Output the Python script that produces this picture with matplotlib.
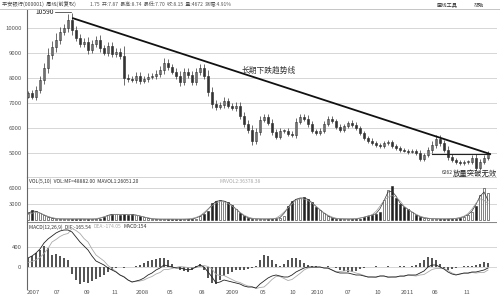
import numpy as np
import matplotlib
matplotlib.use("Agg")
import matplotlib.pyplot as plt

plt.rcParams['font.family'] = ['Noto Sans CJK SC', 'DejaVu Sans']

# weekly closes (index points)
close = [7400, 7240, 7520, 7920, 8400, 8920, 9240, 9520, 9840, 10000,
         10320, 9920, 9600, 9360, 9440, 9120, 9360, 9520, 9200, 9000,
         9280, 8960, 9040, 8880, 8000, 7960, 7920, 8080, 7880, 7960,
         8040, 8080, 8160, 8320, 8600, 8440, 8240, 8080, 7840, 8240,
         8120, 7840, 8240, 8400, 8080, 7440, 6960, 6840, 6920, 7080,
         6880, 6800, 6880, 6480, 6160, 5920, 5480, 5840, 6320, 6440,
         6200, 5840, 5640, 5880, 5880, 5760, 5720, 6240, 6440, 6360,
         6160, 5880, 5800, 5880, 6160, 6360, 6280, 6040, 5920, 6080,
         6200, 6120, 6000, 5800, 5600, 5480, 5400, 5320, 5280, 5400,
         5440, 5280, 5200, 5120, 5080, 5040, 5080, 5000, 4760, 4920,
         5120, 5320, 5560, 5400, 5120, 4840, 4720, 4640, 4600, 4640,
         4640, 4800, 4400, 4640, 4800, 4960]
wick = [150, 200, 250, 300, 350, 500, 400, 450, 350, 300,
        400, 450, 300, 250, 300, 350, 250, 300, 350, 200,
        300, 250, 250, 300, 700, 250, 200, 250, 300, 200,
        250, 200, 250, 300, 350, 250, 200, 300, 350, 300,
        250, 300, 250, 300, 250, 400, 350, 250, 200, 250,
        200, 200, 250, 300, 250, 300, 350, 300, 250, 200,
        200, 250, 200, 200, 150, 200, 200, 250, 200, 200,
        250, 200, 150, 200, 200, 200, 200, 150, 200, 150,
        150, 200, 200, 150, 150, 150, 200, 150, 150, 150,
        150, 150, 150, 150, 120, 150, 120, 150, 200, 150,
        200, 250, 300, 250, 200, 250, 200, 150, 150, 150,
        150, 200, 250, 200, 200, 200]
volume = [1500, 1875, 1690, 1310, 940, 560, 375,
          200, 180, 220, 190, 170, 210, 190, 200, 180, 170, 190, 210,
          560, 940, 1125, 1125, 940, 1125, 940, 1125, 940, 750, 560, 375,
          180, 170, 160, 150, 160, 170, 150, 140, 160, 170, 180, 220,
          750, 1125, 1690, 3190, 3560, 3750, 3560, 3375, 2810, 2060, 1310, 750,
          300, 260, 220, 200, 180, 190, 200, 230,
          375, 750, 2625, 3560, 3940, 4125, 4310, 3940, 3375, 2440, 1875, 1310, 750,
          300, 250, 220, 200, 180, 190, 210, 240,
          560, 750, 940, 1125, 1500, 3750, 5625, 6375, 4125, 3000, 2440, 2060, 1500, 940, 560,
          400, 300, 250, 220, 200, 190, 200, 220, 260,
          375, 560, 940, 1500, 2625, 4690, 6000, 5060]
dif = [180, 220, 280, 360, 480, 560, 620, 680, 720, 740,
       740, 700, 600, 500, 420, 340, 220, 120, 80, 40,
       -20, -60, -100, -160, -200, -260, -300, -280, -260, -220,
       -160, -120, -60, -20, 40, 20, 0, -20, -20, -40,
       -60, -40, 0, 40, 0, -100, -200, -320, -300, -260,
       -280, -300, -320, -340, -380, -400, -400, -420, -340, -280,
       -220, -180, -160, -180, -200, -200, -160, -100, -60, -20,
       0, 0, 0, 0, -20, -20, -60, -100, -120, -120,
       -120, -140, -160, -160, -180, -200, -200, -200, -180, -180,
       -200, -200, -200, -180, -180, -160, -160, -160, -120, -80,
       0, 40, 40, 0, -40, -100, -140, -160, -140, -120,
       -120, -100, -100, -80, -60, -20]
macd_hist = [180, 220, 280, 340, 420, 380, 240, 260, 220, 180,
             140, -140, -260, -340, -300, -320, -280, -240, -200, -160,
             -100, -60, -20, 0, -20, 0, 0, 20, 40, 80,
             120, 140, 160, 180, 180, 140, 60, -20, -60, -80,
             -100, -60, 20, 60, -60, -220, -320, -340, -260, -180,
             -140, -100, -60, -60, -60, -40, -20, 20, 140, 240,
             220, 140, 60, 20, 60, 140, 180, 180, 140, 80,
             40, 20, 20, 0, 0, 20, 0, -20, -60, -80,
             -100, -100, -80, -40, -20, 0, 0, 20, 0, 0,
             20, 0, 0, 20, 20, 0, 20, 40, 80, 140,
             200, 180, 140, 60, -20, -60, -40, -20, 0, 20,
             20, 20, 40, 60, 100, 80]
date_pos = [1.25, 7.25, 14.75, 21.75, 28.5, 35.5, 43.5, 51, 58.75, 66.25,
            72.25, 80, 87.5, 94.75, 101.75, 109.75]
date_lab = ["2007", "07", "09", "11", "2008", "05", "08", "2009", "05", "10",
            "2010", "07", "10", "2011", "06", "11"]

close = np.array(close, float)
n = len(close)
x = np.arange(n)
opn = np.r_[close[0] - 150, close[:-1]]
high = np.maximum(opn, close) + np.array(wick) * 0.6
low = np.minimum(opn, close) - np.array(wick) * 0.4
up = close >= opn
vol = np.array(volume, float)
dif = np.array(dif, float)
hist = np.array(macd_hist, float)
dea = dif - hist / 2

W, H = 500, 298
fig = plt.figure(figsize=(5.0, 2.98), dpi=100)
fig.patch.set_facecolor("white")


def px_axes(top, bottom):
    return fig.add_axes([27 / W, 1 - bottom / H, 470 / W, (bottom - top) / H])


def style(ax):
    ax.set_xlim(-0.25, n + 1.25)
    for s in ("top", "right", "bottom"):
        ax.spines[s].set_visible(False)
    ax.spines["left"].set_color("#666666")
    ax.spines["left"].set_linewidth(0.8)
    ax.tick_params(axis="y", length=0, labelsize=4.3, colors="#555555", pad=4)
    ax.tick_params(axis="x", length=0, labelbottom=False)
    ax.grid(axis="y", color="#d0d0d0", lw=0.6)
    ax.set_axisbelow(True)


# price panel
ax = px_axes(10, 177)
style(ax)
ax.set_ylim(4040, 10720)
ax.set_yticks([5000, 6000, 7000, 8000, 9000, 10000])
ax.vlines(x, low, high, color="#333333", lw=0.5)
body_h = np.abs(close - opn)
body_h = np.maximum(body_h, 25)
ax.bar(x[up], body_h[up], bottom=opn[up], width=0.42, color="white",
       edgecolor="#333333", linewidth=0.45)
ax.bar(x[~up], body_h[~up], bottom=close[~up], width=0.42, color="#333333",
       edgecolor="#333333", linewidth=0.45)

# trend line from the top through the later highs
i0 = int(np.argmax(high))
ax.plot([i0 + 0.25, n - 0.5], [high[i0] - 200, 4960], color="#111111", lw=1.3)
ax.text(i0 - 4.5, high[i0] + 40, f"{int(high[i0])}", fontsize=4.8, ha="right",
        va="center", color="#222222")
ax.plot([i0 - 4.3, i0 - 0.3], [high[i0] + 40, high[i0] + 40], color="#222222", lw=0.5)
ax.text(53.5, 8300, "长期下跌趋势线", fontsize=5.6, color="#333333", va="center")
ax.plot([101, n - 0.5], [4960, 4960], color="#222222", lw=0.8)
ax.text(103.5, 4230, "6262", fontsize=3.6, color="#333333", va="center")
ax.text(106.2, 4160, "放量突破无效", fontsize=5.3, color="#222222", va="center")

# header
fig.text(2 / W, 1 - 5 / H, "平安银行(000001)  周线(前复权)", fontsize=3.8, color="#444444", va="center")
fig.text(90 / W, 1 - 5 / H, "1.75  开:7.87  最高:8.74  最低:7.70  收:8.15  量:4672  涨幅:4.91%",
         fontsize=3.6, color="#555555", va="center")
fig.text(437 / W, 1 - 5 / H, "画线工具", fontsize=3.8, color="#333333", va="center")
fig.text(474 / W, 1 - 5 / H, "帮助", fontsize=3.8, color="#333333", va="center")
fig.add_artist(plt.Line2D([0, 1], [1 - 9 / H, 1 - 9 / H], color="#bbbbbb", lw=0.6))

# volume panel
axv = px_axes(177, 222)
style(axv)
axv.set_ylim(-375, 8060)
axv.set_yticks([3000, 6000])
axv.bar(x[up], vol[up], width=0.5, color="white", edgecolor="#222222", linewidth=0.4)
axv.bar(x[~up], vol[~up], width=0.5, color="#222222", edgecolor="#222222", linewidth=0.4)
ma5 = np.convolve(vol, np.ones(3) / 3, mode="same")
ma10 = np.convolve(vol, np.ones(5) / 5, mode="same")
axv.plot(x, ma5, color="#333333", lw=0.5)
axv.plot(x, ma10, color="#999999", lw=0.5)
axv.text(0.3, 7300, "VOL(5,10)  VOL:MF=48882.00  MAVOL1:26051.20", fontsize=3.6,
         color="#333333", va="center")
axv.text(48, 7300, "MAVOL2:36378.38", fontsize=3.6, color="#aaaaaa", va="center")
axv.axhline(8060, color="#cccccc", lw=0.6)

# MACD panel
axm = px_axes(222, 289)
style(axm)
axm.set_ylim(-440, 900)
axm.set_yticks([0, 400])
axm.bar(x, hist, width=0.35, color="#555555")
axm.plot(x, dea, color="#aaaaaa", lw=0.6)
axm.plot(x, dif, color="#222222", lw=0.6)
axm.axhline(900, color="#888888", lw=0.8)
axm.text(0.3, 800, "MACD(12,26,9)  DIF:-165.54", fontsize=3.6, color="#333333", va="center")
axm.text(16.5, 800, "DEA:-174.05", fontsize=3.6, color="#aaaaaa", va="center")
axm.text(24, 800, "MACD:154", fontsize=3.6, color="#333333", va="center")
axm.set_xticks(date_pos)
axm.set_xticklabels(date_lab)
axm.tick_params(axis="x", labelbottom=True, labelsize=4.3, colors="#555555", pad=1)

fig.savefig("out.png", dpi=100, facecolor="white")
